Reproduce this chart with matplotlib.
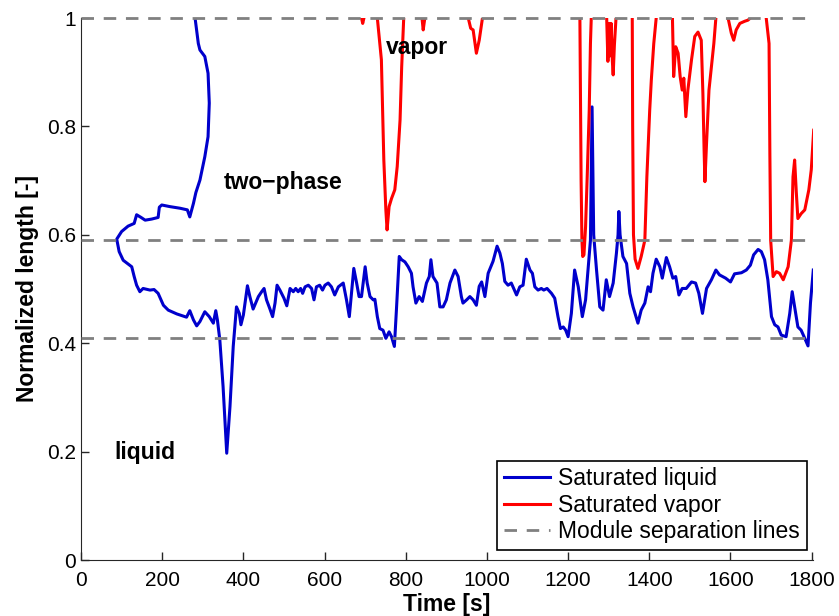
import numpy as np
import matplotlib
matplotlib.use("Agg")
import matplotlib.pyplot as plt

plt.rcParams["font.family"] = ["Liberation Sans", "DejaVu Sans"]

# ── Data ──────────────────────────────────────
# saturated liquid front (normalized length) vs time [s]
liq_t = [281, 289, 293, 305, 313, 316, 313, 305, 293, 283, 277, 268, 262, 244, 219, 199, 193, 190,
         174, 158, 148, 137, 131, 116, 100, 88, 94, 104, 125, 131, 137, 145, 153, 170, 180, 190,
         203, 215, 236, 260, 268, 277, 285, 293, 305, 316, 326, 332, 336, 342, 350, 359, 367, 375,
         383, 390, 394, 400, 410, 416, 424, 437, 445, 451, 457, 465, 472, 478, 483, 490, 500, 507,
         515, 523, 529, 535, 541, 546, 552, 560, 568, 574, 580, 588, 595, 601, 609, 617, 625, 634,
         646, 654, 661, 667, 672, 679, 685, 691, 697, 700, 705, 712, 720, 724, 730, 736, 744, 751,
         759, 765, 772, 777, 784, 790, 798, 806, 814, 818, 825, 833, 841, 851, 858, 862, 867, 877,
         884, 892, 900, 909, 921, 929, 937, 941, 950, 958, 966, 974, 981, 987, 995, 1003, 1015, 1025,
         1032, 1038, 1044, 1052, 1060, 1073, 1081, 1089, 1097, 1106, 1112, 1118, 1126, 1134, 1140,
         1148, 1159, 1167, 1175, 1181, 1188, 1194, 1200, 1208, 1216, 1225, 1235, 1243, 1249, 1255,
         1259, 1263, 1270, 1278, 1286, 1294, 1302, 1311, 1319, 1323, 1325, 1328, 1335, 1344, 1352,
         1360, 1372, 1380, 1389, 1397, 1403, 1409, 1417, 1426, 1432, 1442, 1450, 1458, 1465, 1473,
         1481, 1491, 1504, 1514, 1522, 1531, 1541, 1553, 1564, 1573, 1588, 1600, 1610, 1627, 1639,
         1649, 1657, 1668, 1676, 1684, 1692, 1701, 1709, 1717, 1725, 1737, 1746, 1752, 1758, 1766,
         1774, 1783, 1791, 1797, 1804]
liq_y = [1.0, 0.953, 0.941, 0.929, 0.898, 0.843, 0.781, 0.744, 0.701, 0.678, 0.658, 0.633, 0.646,
         0.649, 0.652, 0.655, 0.651, 0.632, 0.629, 0.627, 0.632, 0.637, 0.621, 0.616, 0.606, 0.592,
         0.569, 0.553, 0.541, 0.523, 0.507, 0.495, 0.501, 0.498, 0.499, 0.492, 0.470, 0.461, 0.454,
         0.448, 0.460, 0.443, 0.432, 0.440, 0.458, 0.449, 0.437, 0.460, 0.443, 0.406, 0.320, 0.197,
         0.283, 0.394, 0.467, 0.455, 0.434, 0.452, 0.506, 0.486, 0.463, 0.486, 0.495, 0.501, 0.480,
         0.464, 0.449, 0.474, 0.507, 0.498, 0.483, 0.469, 0.501, 0.495, 0.501, 0.495, 0.501, 0.492,
         0.504, 0.507, 0.501, 0.480, 0.504, 0.507, 0.498, 0.507, 0.511, 0.504, 0.489, 0.504, 0.511,
         0.480, 0.449, 0.498, 0.538, 0.511, 0.486, 0.486, 0.523, 0.541, 0.511, 0.486, 0.480, 0.481,
         0.449, 0.427, 0.424, 0.409, 0.421, 0.412, 0.394, 0.461, 0.560, 0.554, 0.550, 0.541, 0.529,
         0.504, 0.474, 0.486, 0.477, 0.511, 0.523, 0.554, 0.523, 0.511, 0.467, 0.467, 0.480, 0.511,
         0.535, 0.523, 0.486, 0.474, 0.480, 0.486, 0.480, 0.470, 0.505, 0.513, 0.486, 0.529, 0.551,
         0.579, 0.566, 0.547, 0.514, 0.507, 0.511, 0.489, 0.504, 0.507, 0.555, 0.535, 0.529, 0.504,
         0.498, 0.501, 0.498, 0.501, 0.492, 0.483, 0.449, 0.427, 0.430, 0.424, 0.412, 0.455, 0.535,
         0.504, 0.449, 0.480, 0.535, 0.590, 0.836, 0.600, 0.535, 0.467, 0.461, 0.517, 0.486, 0.511,
         0.566, 0.600, 0.643, 0.600, 0.560, 0.547, 0.492, 0.467, 0.437, 0.461, 0.474, 0.504, 0.495,
         0.529, 0.555, 0.541, 0.520, 0.558, 0.541, 0.520, 0.523, 0.489, 0.501, 0.501, 0.513, 0.511,
         0.492, 0.455, 0.501, 0.517, 0.535, 0.526, 0.520, 0.513, 0.528, 0.530, 0.535, 0.544, 0.563,
         0.573, 0.569, 0.554, 0.517, 0.449, 0.434, 0.430, 0.415, 0.412, 0.455, 0.495, 0.467, 0.430,
         0.424, 0.409, 0.395, 0.474, 0.535]

# saturated vapor front; nan = front outside the evaporator
vap_t = [691, 694, 697, np.nan,
         730, 740, 743, 746, 751, 754, 759, 765, 773, 779, 786, 790, 795, np.nan,
         840, 843, 847, np.nan,
         954, 960, 966, 974, 981, 989, np.nan,
         1229, 1232, 1234, 1236, 1239, 1243, 1247, 1252, 1255, 1257, np.nan,
         1295, 1298, 1301, 1303, 1306, 1309, 1311, 1314, 1318, np.nan,
         1358, 1359, 1361, 1365, 1372, 1380, 1389, 1394, 1401, 1405, 1411, 1417, np.nan,
         1457, 1460, 1465, 1471, 1476, 1481, 1485, 1490, 1495, 1504, 1512, 1520, 1528, 1532, 1535,
         1537, 1541, 1547, 1553, 1559, 1564, np.nan,
         1594, 1602, 1608, 1614, 1623, 1635, 1643, 1649, np.nan,
         1688, 1695, 1697, 1699, 1705, 1713, 1721, 1730, 1742, 1750, 1754, 1758, 1762, 1766, 1774,
         1783, 1793, 1799, 1805]
vap_y = [1.0, 0.99, 1.0, np.nan,
         1.0, 0.923, 0.830, 0.738, 0.646, 0.609, 0.652, 0.667, 0.683, 0.726, 0.812, 0.910, 1.0, np.nan,
         1.0, 0.978, 1.0, np.nan,
         1.0, 0.981, 0.978, 0.935, 0.959, 1.0, np.nan,
         1.0, 0.70, 0.59, 0.560, 0.563, 0.615, 0.707, 0.830, 0.953, 1.0, np.nan,
         1.0, 0.92, 0.99, 0.93, 0.99, 0.92, 0.895, 0.95, 1.0, np.nan,
         1.0, 0.80, 0.60, 0.555, 0.538, 0.560, 0.590, 0.707, 0.830, 0.886, 0.953, 1.0, np.nan,
         1.0, 0.892, 0.947, 0.935, 0.892, 0.867, 0.889, 0.818, 0.867, 0.923, 0.966, 0.974, 0.959,
         0.861, 0.756, 0.698, 0.769, 0.867, 0.910, 0.953, 1.0, np.nan,
         1.0, 0.972, 0.959, 0.978, 0.990, 0.994, 0.996, 1.0, np.nan,
         1.0, 0.953, 0.75, 0.59, 0.523, 0.532, 0.529, 0.517, 0.541, 0.590, 0.707, 0.738, 0.680,
         0.630, 0.639, 0.646, 0.683, 0.72, 0.793]

module_lines = [0.41, 0.59, 1.0]

x_ticks = [0, 200, 400, 600, 800, 1000, 1200, 1400, 1600, 1800]
y_ticks = [0, 0.2, 0.4, 0.6, 0.8, 1.0]
y_ticklabels = ["0", "0.2", "0.4", "0.6", "0.8", "1"]

# ── Plot ──────────────────────────────────────
fig = plt.figure(figsize=(8.39, 6.16), dpi=100)
ax = fig.add_axes([81 / 839, 56 / 616, 732.3 / 839, 542 / 616])

ax.plot(liq_t, liq_y, color="#0000cc", lw=2.2, label="Saturated liquid", zorder=3)
ax.plot(vap_t, vap_y, color="#ff0000", lw=2.2, label="Saturated vapor", zorder=3)
for i, yl in enumerate(module_lines):
    ax.axhline(yl, color="#808080", lw=2.0, ls=(0, (4.5, 3.5)), clip_on=False, zorder=4,
               label="Module separation lines" if i == 0 else None)

ax.text(497, 0.696, "two\u2212phase", fontsize=16.5, fontweight="bold", ha="center", va="center")
ax.text(827, 0.946, "vapor", fontsize=16.5, fontweight="bold", ha="center", va="center")
ax.text(158, 0.199, "liquid", fontsize=16.5, fontweight="bold", ha="center", va="center")

ax.set_xlim(0, 1804)
ax.set_ylim(0, 1)
ax.set_xticks(x_ticks)
ax.set_yticks(y_ticks)
ax.set_yticklabels(y_ticklabels)
ax.tick_params(direction="in", length=6, width=1, labelsize=15, colors="#262626",
               labelcolor="black")
ax.tick_params(axis="x", pad=8)
ax.spines["top"].set_visible(False)
ax.spines["right"].set_visible(False)
for s in ("left", "bottom"):
    ax.spines[s].set_color("#262626")

ax.set_xlabel("Time [s]", fontsize=16.5, fontweight="bold", labelpad=2)
ax.set_ylabel("Normalized length [-]", fontsize=16.5, fontweight="bold", labelpad=6)

leg = ax.legend(loc="lower right", bbox_to_anchor=(0.991, 0.018), borderaxespad=0,
                fontsize=16.5, fancybox=False, framealpha=1, edgecolor="black",
                handlelength=2.0, labelspacing=0.15, borderpad=0.3, handletextpad=0.35)
leg.get_frame().set_linewidth(1.2)

fig.savefig("out.png", dpi=100)
